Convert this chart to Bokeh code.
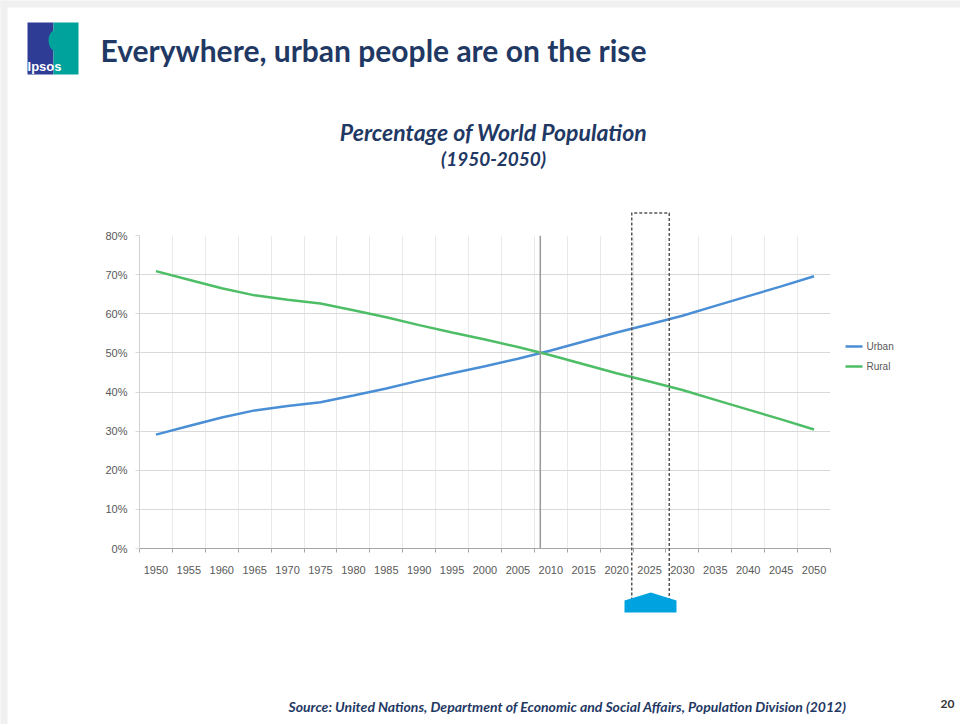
from bokeh.plotting import figure
from bokeh.models import Range1d, FixedTicker
from bokeh.core.properties import value
from bokeh.embed import file_html
from bokeh.resources import INLINE

# ---------------- data ----------------
years = [1950, 1955, 1960, 1965, 1970, 1975, 1980, 1985, 1990, 1995, 2000,
         2005, 2010, 2015, 2020, 2025, 2030, 2035, 2040, 2045, 2050]
urban = [29.1, 31.3, 33.5, 35.3, 36.4, 37.4, 39.1, 40.9, 42.9, 44.8, 46.6,
         48.5, 50.6, 52.9, 55.2, 57.3, 59.5, 62.0, 64.5, 67.0, 69.6]
rural = [70.9, 68.7, 66.5, 64.7, 63.6, 62.6, 60.9, 59.1, 57.1, 55.2, 53.4,
         51.5, 49.4, 47.1, 44.8, 42.7, 40.5, 38.0, 35.5, 33.0, 30.4]
series_names = ["Urban", "Rural"]
series_colors = ["#4A8FD6", "#4DBE66"]
y_ticks = [0, 10, 20, 30, 40, 50, 60, 70, 80]
y_tick_labels = ["0%", "10%", "20%", "30%", "40%", "50%", "60%", "70%", "80%"]
x_tick_labels = [str(y) for y in years]
crossover_year = 2008.4             # grey vertical reference line
highlight_years = (2022.3, 2028.0)  # dashed highlight box around 2025
highlight_center = 2025.2

slide_title = "Everywhere, urban people are on the rise"
chart_title_1 = "Percentage of World Population"
chart_title_2 = "(1950-2050)"
source_text = "Source:  United Nations, Department of Economic and Social Affairs, Population Division (2012)"
page_number = "20"
logo_text = "Ipsos"

# ---------------- layout ----------------
W, H = 960, 724
FL, FR, FT, FB = 139, 830, 235, 548
X0, X1 = 1947.5, 2052.5
Y0, Y1 = 0, 80


def px2x(px):
    return X0 + (px - FL) / (FR - FL) * (X1 - X0)


def py2y(py):
    return Y0 + (FB - py) / (FB - FT) * (Y1 - Y0)


p = figure(width=W, height=H, output_backend="svg", toolbar_location=None,
           x_range=Range1d(X0, X1), y_range=Range1d(Y0, Y1),
           min_border_left=FL, min_border_right=W - FR,
           min_border_top=FT, min_border_bottom=H - FB)
p.outline_line_color = None
p.background_fill_color = "white"
p.border_fill_color = "white"

boundaries = [y - 2.5 for y in years] + [years[-1] + 2.5]

# axes
xa = p.xaxis[0]
xa.ticker = FixedTicker(ticks=years, minor_ticks=boundaries)
xa.major_label_overrides = {y: l for y, l in zip(years, x_tick_labels)}
xa.major_tick_line_color = None
xa.major_tick_out = 0
xa.major_tick_in = 0
xa.minor_tick_line_color = "#A6A6A6"
xa.minor_tick_out = 4
xa.minor_tick_in = 0
xa.axis_line_color = "#A6A6A6"
xa.major_label_standoff = 13
xa.major_label_text_font = "Liberation Sans"
xa.major_label_text_font_size = "11px"
xa.major_label_text_color = "#595959"

ya = p.yaxis[0]
ya.ticker = FixedTicker(ticks=y_ticks)
ya.major_label_overrides = {t: l for t, l in zip(y_ticks, y_tick_labels)}
ya.minor_tick_line_color = None
ya.major_tick_line_color = "#D9D9D9"
ya.major_tick_out = 4
ya.major_tick_in = 0
ya.axis_line_color = "#D0D0D0"
ya.major_label_standoff = 8
ya.major_label_text_font = "Liberation Sans"
ya.major_label_text_font_size = "11px"
ya.major_label_text_color = "#595959"

p.xgrid.ticker = FixedTicker(ticks=boundaries)
p.xgrid.grid_line_color = "#EAEAEA"
p.ygrid.grid_line_color = "#D9D9D9"

# data lines
p.line(years, urban, line_color=series_colors[0], line_width=2.5)
p.line(years, rural, line_color=series_colors[1], line_width=2.5)

# vertical reference line
p.segment(x0=[crossover_year], y0=[Y0], x1=[crossover_year], y1=[Y1],
          line_color="#9A9A9A", line_width=1.5)

# dashed highlight box and blue pointer (overlay level: not clipped to frame)
hx0, hx1 = highlight_years
p.line(x=[hx0, hx0, hx1, hx1], y=[py2y(600), py2y(212.5), py2y(212.5), py2y(600)],
       line_color="#555555", line_width=1.5, line_dash="3 2", level="overlay")
p.patch(x=[px2x(624), px2x(624), highlight_center, px2x(676), px2x(676)],
        y=[py2y(612), py2y(600), py2y(592), py2y(600), py2y(612)],
        fill_color="#00A3E0", line_color=None, level="overlay")

# slide background edge (light grey strip)
p.quad(left=[px2x(0), px2x(0)], right=[px2x(W), px2x(7)],
       top=[py2y(0), py2y(0)], bottom=[py2y(7), py2y(H)],
       fill_color="#F0F0F0", line_color=None, level="overlay")

# logo
p.quad(left=[px2x(27)], right=[px2x(53)], top=[py2y(22)], bottom=[py2y(74)],
       fill_color="#2E3C96", line_color=None, level="overlay")
p.quad(left=[px2x(53)], right=[px2x(78)], top=[py2y(22)], bottom=[py2y(74)],
       fill_color="#00A39B", line_color=None, level="overlay")
p.ellipse(x=[px2x(54)], y=[py2y(40)], width=[px2x(65) - px2x(53)],
          height=[py2y(30) - py2y(50)], fill_color="#00A39B",
          line_color=None, level="overlay")
p.ellipse(x=[px2x(57)], y=[py2y(52)], width=[px2x(60) - px2x(53)],
          height=[py2y(45) - py2y(59)], fill_color="#00A39B",
          line_color=None, level="overlay")


def add_text(px, py, text, size, style="normal", color="#1F3864",
             align="left", font="Lato"):
    p.text(x=[px2x(px)], y=[py2y(py)], text=[text], text_align=align,
           text_baseline="middle", text_color=color,
           text_font=value(font), text_font_style=style,
           text_font_size=size, level="overlay")


# legend (drawn manually to the right of the plot area)
for i, (name, col) in enumerate(zip(series_names, series_colors)):
    ly = 346 + 20 * i
    p.segment(x0=[px2x(845)], y0=[py2y(ly)], x1=[px2x(862)], y1=[py2y(ly)],
              line_color=col, line_width=2.5, level="overlay")
    add_text(866, ly, name, "10px", color="#595959", font="Liberation Sans")

add_text(44, 66, logo_text, "13px", style="bold", color="white",
         align="center", font="Liberation Sans")
add_text(100, 49, slide_title, "30px", style="bold")
add_text(493, 131, chart_title_1, "23px", style="bold italic", align="center")
add_text(493, 158, chart_title_2, "19px", style="bold italic", align="center")
add_text(288, 706, source_text, "14px", style="bold italic")
add_text(947, 703, page_number, "12px", style="bold", color="#333333",
         align="center")

open("out.html", "w").write(file_html(p, INLINE))
